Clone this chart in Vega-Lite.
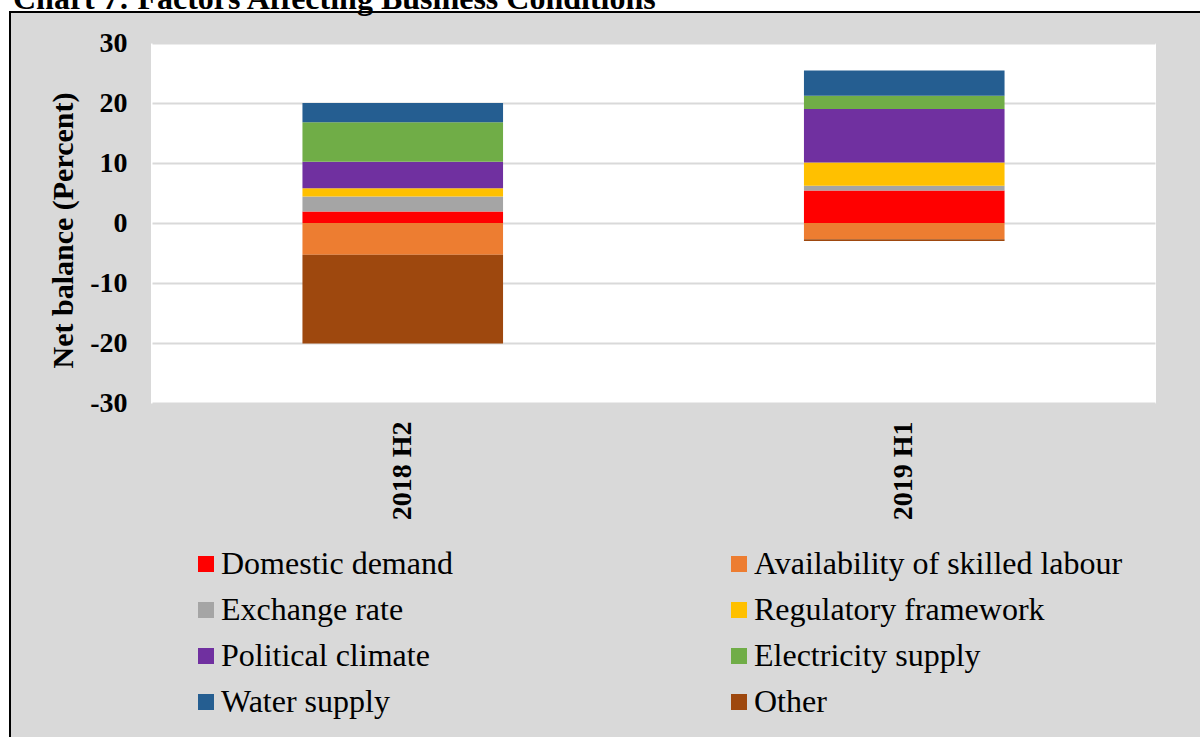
{
  "$schema": "https://vega.github.io/schema/vega-lite/v6.json",
  "autosize": {"type": "none"},
  "width": 1196,
  "height": 731,
  "padding": {"left": 10, "top": 12, "right": -6, "bottom": -6},
  "background": "#ffffff",
  "config": {
    "font": "Liberation Serif",
    "view": {"fill": "#d9d9d9", "stroke": "#000000", "strokeWidth": 2}
  },
  "title": {
    "text": "Chart 7: Factors Affecting Business Conditions",
    "anchor": "start",
    "font": "Liberation Serif",
    "fontSize": 32,
    "fontWeight": "bold",
    "color": "#000000",
    "baseline": "alphabetic",
    "offset": -6,
    "dx": 3,
    "dy": 23
  },
  "data": {
    "values": [
      {"period": "2018 H2", "factor": "Domestic demand", "value": 1.9, "rank": 1},
      {"period": "2018 H2", "factor": "Availability of skilled labour", "value": -5.3, "rank": 2},
      {"period": "2018 H2", "factor": "Exchange rate", "value": 2.5, "rank": 3},
      {"period": "2018 H2", "factor": "Regulatory framework", "value": 1.4, "rank": 4},
      {"period": "2018 H2", "factor": "Political climate", "value": 4.4, "rank": 5},
      {"period": "2018 H2", "factor": "Electricity supply", "value": 6.6, "rank": 6},
      {"period": "2018 H2", "factor": "Water supply", "value": 3.2, "rank": 7},
      {"period": "2018 H2", "factor": "Other", "value": -14.8, "rank": 8},
      {"period": "2019 H1", "factor": "Domestic demand", "value": 5.4, "rank": 1},
      {"period": "2019 H1", "factor": "Availability of skilled labour", "value": -2.7, "rank": 2},
      {"period": "2019 H1", "factor": "Exchange rate", "value": 0.8, "rank": 3},
      {"period": "2019 H1", "factor": "Regulatory framework", "value": 3.9, "rank": 4},
      {"period": "2019 H1", "factor": "Political climate", "value": 8.9, "rank": 5},
      {"period": "2019 H1", "factor": "Electricity supply", "value": 2.2, "rank": 6},
      {"period": "2019 H1", "factor": "Water supply", "value": 4.2, "rank": 7},
      {"period": "2019 H1", "factor": "Other", "value": -0.3, "rank": 8}
    ]
  },
  "mark": {"type": "bar"},
  "encoding": {
    "x": {
      "field": "period",
      "type": "nominal",
      "sort": ["2018 H2", "2019 H1"],
      "scale": {"range": [142, 1145], "paddingInner": 0.6, "paddingOuter": 0.3},
      "axis": {
        "orient": "top",
        "offset": -391,
        "title": null,
        "domain": false,
        "ticks": false,
        "labelAngle": -90,
        "labelAlign": "right",
        "labelBaseline": "middle",
        "labelPadding": -18,
        "labelFont": "Liberation Serif",
        "labelFontSize": 28,
        "labelFontWeight": "bold",
        "labelColor": "#000000",
        "grid": true,
        "gridColor": "#ffffff",
        "gridOpacity": 1,
        "gridWidth": 503,
        "bandPosition": 0.5,
        "tickBand": "center"
      }
    },
    "y": {
      "field": "value",
      "type": "quantitative",
      "stack": "zero",
      "scale": {"domain": [-30, 30], "range": [391, 31], "nice": false},
      "axis": {
        "orient": "left",
        "offset": -142,
        "values": [-30, -20, -10, 0, 10, 20, 30],
        "labelExpr": "replace(datum.label, '−', '-')",
        "domain": false,
        "ticks": false,
        "labelPadding": 25,
        "labelFont": "Liberation Serif",
        "labelFontSize": 28,
        "labelFontWeight": "bold",
        "labelColor": "#000000",
        "grid": true,
        "gridColor": "#d9d9d9",
        "gridWidth": 2,
        "title": "Net balance (Percent)",
        "titleFont": "Liberation Serif",
        "titleFontSize": 30,
        "titleFontWeight": "bold",
        "titleColor": "#000000",
        "titlePadding": 11,
        "titleY": 218
      }
    },
    "color": {
      "field": "factor",
      "type": "nominal",
      "scale": {
        "domain": ["Domestic demand", "Availability of skilled labour", "Exchange rate", "Regulatory framework", "Political climate", "Electricity supply", "Water supply", "Other"],
        "range": ["#ff0000", "#ed7d31", "#a5a5a5", "#ffc000", "#7030a0", "#70ad47", "#255e91", "#9e480e"]
      },
      "legend": {
        "orient": "none",
        "legendX": 180,
        "legendY": 536,
        "direction": "horizontal",
        "columns": 2,
        "columnPadding": 270,
        "rowPadding": 14,
        "padding": 0,
        "title": null,
        "symbolType": "square",
        "symbolSize": 256,
        "symbolStrokeWidth": 0,
        "labelFont": "Liberation Serif",
        "labelFontSize": 32,
        "labelColor": "#000000",
        "labelOffset": -1,
        "labelLimit": 0
      }
    },
    "order": {"field": "rank", "type": "quantitative"}
  }
}
